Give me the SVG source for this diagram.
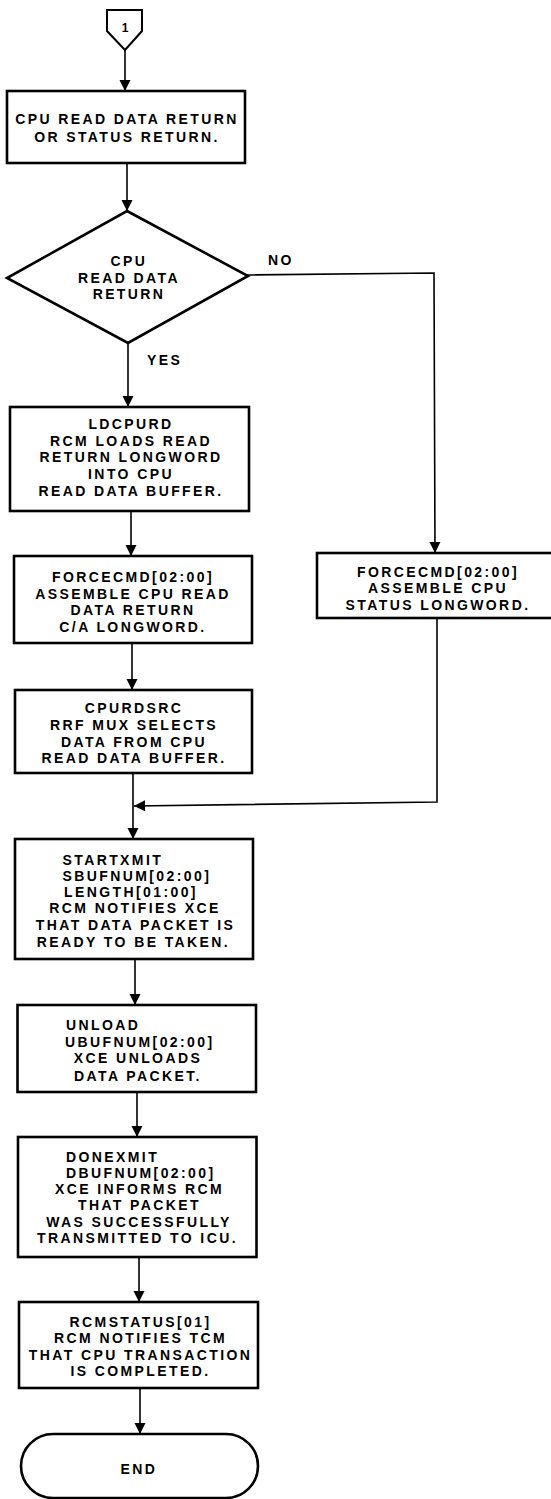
<svg xmlns="http://www.w3.org/2000/svg" width="551" height="1499" viewBox="0 0 551 1499">
  <defs>
    <style>
      .box { fill: #ffffff; stroke: #000000; stroke-width: 2.6; }
      .edge { fill: none; stroke: #000000; stroke-width: 1.6; }
      .t { font-family: "Liberation Sans", Arial, sans-serif; font-size: 14px; font-weight: bold; letter-spacing: 2.4px; fill: #000000; }
      .c { text-anchor: middle; }
      .l { text-anchor: start; }
    </style>
    <marker id="arrow" markerUnits="userSpaceOnUse" markerWidth="12" markerHeight="12" refX="11" refY="6" orient="auto">
      <path d="M0,0.5 L11,6 L0,11.5 z" fill="#000000"/>
    </marker>
  </defs>
  <rect width="551" height="1499" fill="#ffffff"/>

  <!-- connectors -->
  <g id="connectors">
    <line class="edge" x1="125" y1="50" x2="125" y2="91" marker-end="url(#arrow)"/>
    <line class="edge" x1="127" y1="163" x2="127" y2="211" marker-end="url(#arrow)"/>
    <line class="edge" x1="128" y1="343" x2="128" y2="407" marker-end="url(#arrow)"/>
    <polyline class="edge" points="246,275 434,273 435,553" marker-end="url(#arrow)"/>
    <line class="edge" x1="131" y1="511" x2="131" y2="556" marker-end="url(#arrow)"/>
    <line class="edge" x1="132" y1="643" x2="132" y2="690" marker-end="url(#arrow)"/>
    <line class="edge" x1="133" y1="773" x2="133" y2="839" marker-end="url(#arrow)"/>
    <polyline class="edge" points="437,618 437,802 134,806" marker-end="url(#arrow)"/>
    <line class="edge" x1="135" y1="959" x2="135" y2="1005" marker-end="url(#arrow)"/>
    <line class="edge" x1="137" y1="1092" x2="137" y2="1137" marker-end="url(#arrow)"/>
    <line class="edge" x1="139" y1="1257" x2="139" y2="1302" marker-end="url(#arrow)"/>
    <line class="edge" x1="140" y1="1388" x2="140" y2="1434" marker-end="url(#arrow)"/>
    <text class="t l" x="268" y="265">NO</text>
    <text class="t l" x="147" y="365">YES</text>
  </g>

  <!-- off-page connector 1 -->
  <g id="connector-1">
    <path class="box" style="stroke-width:2" d="M107,10 L142,10 L142,31 L125,50 L107,31 Z"/>
    <text x="125" y="32" text-anchor="middle" style="font-family:'Liberation Sans',Arial,sans-serif;font-size:12px;font-weight:bold">1</text>
  </g>

  <g id="read-or-status">
    <rect class="box" x="7" y="91" width="238" height="72"/>
    <text class="t c" x="127" y="124">CPU READ DATA RETURN</text>
    <text class="t c" x="127" y="142">OR STATUS RETURN.</text>
  </g>

  <g id="decision">
    <polygon class="box" points="127,211 248,276 128,343 7,278"/>
    <text class="t c" x="129" y="266">CPU</text>
    <text class="t c" x="129" y="283">READ DATA</text>
    <text class="t c" x="129" y="299">RETURN</text>
  </g>

  <g id="ldcpurd">
    <rect class="box" x="10" y="407" width="239" height="104"/>
    <text class="t c" x="131" y="429">LDCPURD</text>
    <text class="t c" x="131" y="445.7">RCM LOADS READ</text>
    <text class="t c" x="131" y="462.4">RETURN LONGWORD</text>
    <text class="t c" x="131" y="479">INTO CPU</text>
    <text class="t c" x="131" y="495.8">READ DATA BUFFER.</text>
  </g>

  <g id="forcecmd-read">
    <rect class="box" x="14" y="556" width="238" height="87"/>
    <text class="t c" x="133" y="582">FORCECMD[02:00]</text>
    <text class="t c" x="133" y="598.5">ASSEMBLE CPU READ</text>
    <text class="t c" x="133" y="615">DATA RETURN</text>
    <text class="t c" x="133" y="631.7">C/A LONGWORD.</text>
  </g>

  <g id="cpurdsrc">
    <rect class="box" x="15" y="690" width="237" height="83"/>
    <text class="t c" x="134" y="713.3">CPURDSRC</text>
    <text class="t c" x="134" y="730">RRF MUX SELECTS</text>
    <text class="t c" x="134" y="746.7">DATA FROM CPU</text>
    <text class="t c" x="134" y="763.4">READ DATA BUFFER.</text>
  </g>

  <g id="forcecmd-status">
    <rect class="box" x="317" y="553" width="241" height="65"/>
    <text class="t c" x="438" y="576.7">FORCECMD[02:00]</text>
    <text class="t c" x="438" y="593.3">ASSEMBLE CPU</text>
    <text class="t c" x="438" y="610">STATUS LONGWORD.</text>
  </g>

  <g id="startxmit">
    <rect class="box" x="15" y="839" width="238" height="120"/>
    <text class="t l" x="62.5" y="865">STARTXMIT</text>
    <text class="t l" x="62.5" y="881.3">SBUFNUM[02:00]</text>
    <text class="t l" x="64" y="897.3">LENGTH[01:00]</text>
    <text class="t c" x="135" y="913.3">RCM NOTIFIES XCE</text>
    <text class="t c" x="135.5" y="930">THAT DATA PACKET IS</text>
    <text class="t c" x="133.5" y="946.7">READY TO BE TAKEN.</text>
  </g>

  <g id="unload">
    <rect class="box" x="17.5" y="1005" width="238.5" height="87"/>
    <text class="t l" x="66" y="1030">UNLOAD</text>
    <text class="t l" x="65" y="1046.7">UBUFNUM[02:00]</text>
    <text class="t c" x="138" y="1063.3">XCE UNLOADS</text>
    <text class="t c" x="138" y="1080.7">DATA PACKET.</text>
  </g>

  <g id="donexmit">
    <rect class="box" x="18" y="1137" width="238.5" height="120"/>
    <text class="t l" x="66" y="1161.7">DONEXMIT</text>
    <text class="t l" x="66" y="1178.3">DBUFNUM[02:00]</text>
    <text class="t c" x="139.5" y="1194">XCE INFORMS RCM</text>
    <text class="t c" x="139.5" y="1210">THAT PACKET</text>
    <text class="t c" x="139" y="1226.7">WAS SUCCESSFULLY</text>
    <text class="t c" x="137.5" y="1243.3">TRANSMITTED TO ICU.</text>
  </g>

  <g id="rcmstatus">
    <rect class="box" x="19" y="1302" width="239" height="86"/>
    <text class="t c" x="140.5" y="1326.7">RCMSTATUS[01]</text>
    <text class="t c" x="140.5" y="1343.3">RCM NOTIFIES TCM</text>
    <text class="t c" x="140.5" y="1360">THAT CPU TRANSACTION</text>
    <text class="t c" x="140.5" y="1376">IS COMPLETED.</text>
  </g>

  <g id="end">
    <rect class="box" x="21" y="1434" width="237" height="64" rx="32" ry="32"/>
    <text class="t c" x="139" y="1474">END</text>
  </g>
</svg>
